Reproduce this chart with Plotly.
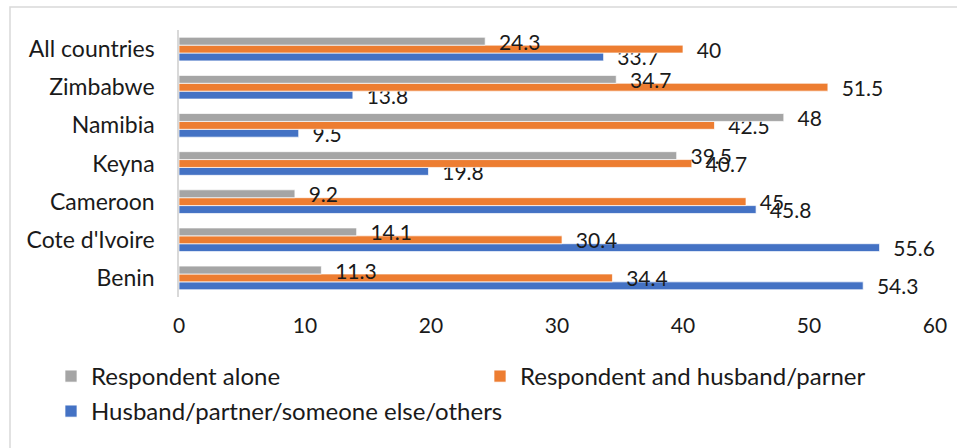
import plotly.graph_objects as go

countries = ["Benin", "Cote d'Ivoire", "Cameroon", "Keyna", "Namibia", "Zimbabwe", "All countries"]
respondent_alone = [11.3, 14.1, 9.2, 39.5, 48, 34.7, 24.3]
respondent_and_partner = [34.4, 30.4, 45, 40.7, 42.5, 51.5, 40]
partner_others = [54.3, 55.6, 45.8, 19.8, 9.5, 13.8, 33.7]

x_ticks = [0, 10, 20, 30, 40, 50, 60]

FONT = "Lato"
TXT = "#1a1a1a"

# plot-area geometry (pixels) used only for layout/border placement
W, H = 957, 448
L, R, T, B = 179, 22, 30, 151
pw, ph = W - L - R, H - T - B

def px_x(px):
    return (px - L) / pw

def px_y(py):
    return (H - B - py) / ph

series = [
    ("Husband/partner/someone else/others", partner_others, "#4472C4", "legend3"),
    ("Respondent and husband/parner", respondent_and_partner, "#ED7D31", "legend2"),
    ("Respondent alone", respondent_alone, "#A5A5A5", "legend"),
]

fig = go.Figure()
for name, vals, color, leg in series:
    fig.add_trace(go.Bar(
        name=name, y=countries, x=vals, orientation="h",
        marker=dict(color=color, line=dict(color="white", width=0.7)),
        texttemplate="  %{x}", textposition="outside",
        textfont=dict(family=FONT, size=21, color=TXT),
        constraintext="none", cliponaxis=False, legend=leg, showlegend=True,
    ))

leg_common = dict(orientation="h", xanchor="left", yanchor="top",
                  font=dict(size=24, color=TXT), bgcolor="rgba(0,0,0,0)")

fig.update_layout(
    width=W, height=H, showlegend=True,
    margin=dict(l=L, r=R, t=T, b=B, autoexpand=False),
    paper_bgcolor="white", plot_bgcolor="white",
    barmode="group", bargap=0.38, bargroupgap=0,
    font=dict(family=FONT, color=TXT),
    xaxis=dict(range=[0, 60], tickvals=x_ticks, showgrid=False, zeroline=False,
               showline=False, ticks="", tickfont=dict(size=21, color=TXT),
               ticklabelstandoff=14, automargin=False),
    yaxis=dict(showgrid=False, zeroline=False, showline=True, linecolor="#D9D9D9",
               linewidth=1.5, ticks="", tickfont=dict(size=23, color=TXT),
               ticklabelstandoff=18, automargin=False),
    legend=dict(x=px_x(51), y=px_y(354), **leg_common),
    legend2=dict(x=px_x(480), y=px_y(354), **leg_common),
    legend3=dict(x=px_x(51), y=px_y(389), **leg_common),
    shapes=[dict(type="rect", xref="paper", yref="paper",
                 x0=px_x(10), x1=px_x(970), y0=px_y(470), y1=px_y(7),
                 line=dict(color="#D9D9D9", width=1.5), fillcolor="rgba(0,0,0,0)",
                 layer="below")],
)

fig.write_html("out.html", config={"displayModeBar": False},
               post_script="document.body.style.margin='0px';")
